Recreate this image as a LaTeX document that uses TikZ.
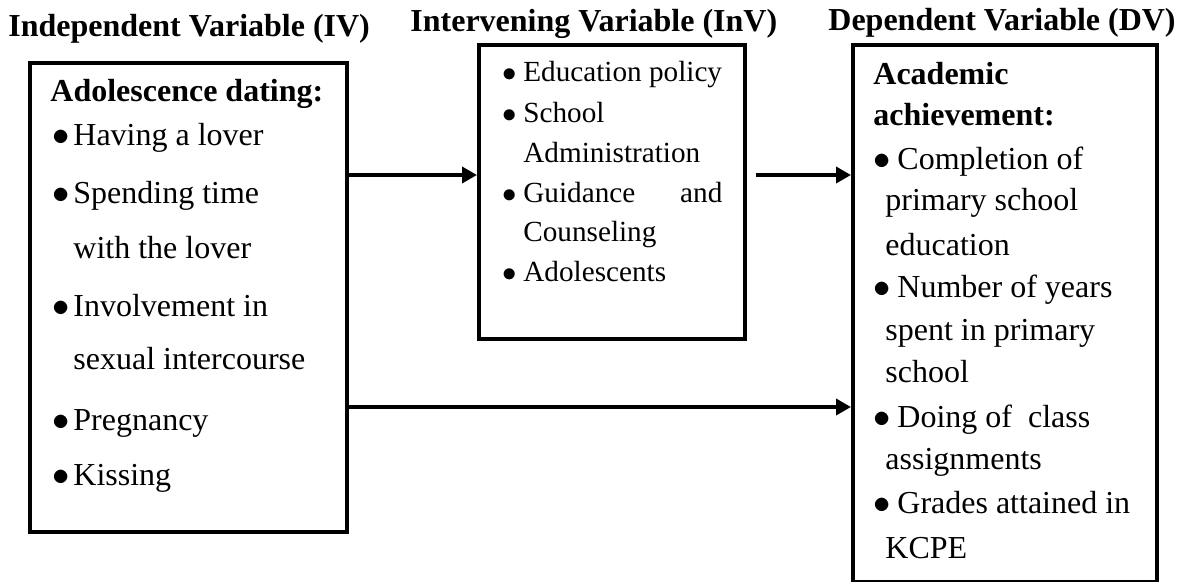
\documentclass[tikz,border=0pt]{standalone}
\usepackage{fontspec}
\setmainfont{Liberation Serif}
\usetikzlibrary{arrows.meta, calc}
\newcommand{\itembul}[1][10.5pt]{\makebox[#1][l]{$\bullet$}}

\begin{document}
\begin{tikzpicture}[x=0.5pt, y=-0.5pt,
		every node/.style={inner sep=0pt, anchor=base west, font=\fontsize{16}{19}\selectfont},
		box/.style={draw, line width=1.8pt, anchor=north west, minimum width=#1},
		arr/.style={line width=1.8pt, -{Triangle[length=7.5pt, width=8pt]}},
		hd/.style={font=\fontsize{16}{19}\selectfont\bfseries},
		small/.style={font=\fontsize{14.6}{17}\selectfont}]
	\useasboundingbox (0,0) rectangle (1188,582);
	
	% titles
	\node[hd] (tiv) at (8,37) {Independent Variable (IV)};
	\node[hd] (tinv) at (410,32) {Intervening Variable (InV)};
	\node[hd] (tdv) at (828,31) {Dependent Variable (DV)};
	
	% boxes
	\node[box=158.5pt, minimum height=234.5pt] (iv) at (28,61) {};
	\node[box=133pt, minimum height=147pt] (inv) at (477,43) {};
	\node[box=152pt, minimum height=268.5pt] (dv) at (851,43) {};
	
	% independent variable
	\node[hd] (ivh) at (50,102) {Adolescence dating:};
	\foreach \y/\x/\t [count=\i] in {146/52/{\itembul Having a lover}, 204/52/{\itembul Spending time},
			259/73/{with the lover}, 317/52/{\itembul Involvement in}, 370/73/{sexual intercourse},
			430/52/{\itembul Pregnancy}, 485/52/{\itembul Kissing}}
		\node (ivl\i) at (\x,\y) {\t};
	
	% intervening variable
	\foreach \y/\x/\t [count=\i] in {82/502/{\itembul Education policy}, 123/502/{\itembul School},
			163/523/{Administration}, 203/502/{\makebox[110pt][s]{\itembul Guidance\hfill and}},
			242/523/{Counseling}, 282/502/{\itembul Adolescents}}
		\node[small] (invl\i) at (\x,\y) {\t};
	
	% dependent variable
	\node[hd] (dvh1) at (873,85) {Academic};
	\node[hd] (dvh2) at (873,126) {achievement:};
	\foreach \y/\x/\t [count=\i] in {170/873/{\itembul[12pt]Completion of}, 211/885/{primary school},
			256/885/{education}, 298/873/{\itembul[12pt]Number of years}, 341/885/{spent in primary},
			383/885/{school}, 428/873/{\itembul[12pt]Doing of\ \ class}, 469/885/{assignments},
			513/873/{\itembul[12pt]Grades attained in}, 558/885/{KCPE}}
		\node (dvl\i) at (\x,\y) {\t};
	
	% arrows
	\coordinate (r1) at (0,175);
	\coordinate (r2) at (0,407);
	\draw[arr] (iv.east |- r1) -- (inv.west |- r1);
	\draw[arr] ($(inv.east |- r1)+(9,0)$) -- (dv.west |- r1);
	\draw[arr] (iv.east |- r2) -- (dv.west |- r2);
\end{tikzpicture}
\end{document}
